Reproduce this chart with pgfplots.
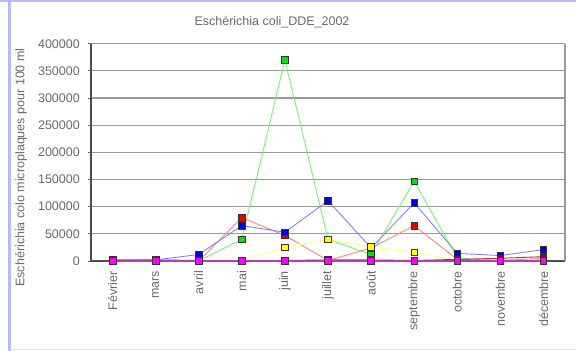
\documentclass[border=0pt]{standalone}
\usepackage{pgfplots}
\pgfplotsset{compat=1.18}
\usepackage{fontspec}
\setmainfont{Liberation Sans}
\definecolor{txt}{HTML}{6A6A6A}
\definecolor{grd}{HTML}{9A9A9A}
\definecolor{lav}{HTML}{B8B8FF}
\begin{document}
\begin{tikzpicture}
\useasboundingbox (0,0) rectangle (576bp,351bp);
\fill[white] (0,0) rectangle (576bp,351bp);
\draw[lav, line width=3bp] (9.5bp,0) -- (9.5bp,351bp);
\draw[lav, line width=2.5bp] (0,350bp) -- (576bp,350bp);
\draw[lav!50, line width=1bp] (9.5bp,1.5bp) -- (576bp,1.5bp);
\node[txt, font=\fontsize{12.5bp}{14bp}\selectfont] at (272bp,329bp) {Eschérichia coli\_DDE\_2002};
\node[txt, rotate=90, font=\fontsize{12.5bp}{14bp}\selectfont] at (21bp,183.5bp) {Eschérichia colo microplaques pour 100 ml};
\begin{axis}[
  at={(91bp,90bp)}, anchor=south west,
  width=474bp, height=217.3bp, scale only axis,
  xmin=-0.5, xmax=10.5, ymin=0, ymax=400000,
  xtick={0,...,10},
  xticklabels={Février,mars,avril,mai,juin,juillet,août,septembre,octobre,novembre,décembre},
  xticklabel style={rotate=90, anchor=east, inner sep=0pt, xshift=-7bp, text=txt, font=\fontsize{12.5bp}{14bp}\selectfont},
  ytick={0,50000,100000,150000,200000,250000,300000,350000,400000},
  yticklabels={0,50000,100000,150000,200000,250000,300000,350000,400000},
  yticklabel style={text=txt, font=\fontsize{12.5bp}{14bp}\selectfont, inner sep=0pt, xshift=-8bp},
  scaled y ticks=false,
  ymajorgrids, major grid style={grd, line width=1.2bp},
  axis x line*=bottom, axis y line*=left,
  axis line style={black!70, line width=1.3bp},
  x axis line style={-}, y axis line style={-},
  major x tick style={draw=none},
  major y tick style={black!60, line width=0.8bp},
  tick align=outside, major tick length=3bp,
  clip=false,
  every axis plot/.append style={line width=0.9bp, mark=square*, mark size=3.3bp},
  after end axis/.code={\draw[grd, line width=1.5bp] (rel axis cs:1,0) -- (rel axis cs:1,1);},
]
% green
\addplot[color={rgb,255:red,120;green,240;blue,120}, mark options={fill={rgb,255:red,0;green,230;blue,0}, draw=black!80, line width=0.6bp}] coordinates {
(0,0) (1,0) (2,0) (3,40000) (4,370000) (5,40000) (6,12000) (7,147000) (8,5000) (9,1000) (10,1000)};
% red
\addplot[color={rgb,255:red,255;green,130;blue,130}, mark options={fill={rgb,255:red,230;green,0;blue,0}, draw=black!80, line width=0.6bp}] coordinates {
(0,0) (1,1000) (2,0) (3,80000) (4,47000) (5,1000) (6,24000) (7,65000) (8,3000) (9,1000) (10,5000)};
% blue
\addplot[color={rgb,255:red,130;green,130;blue,255}, mark options={fill={rgb,255:red,0;green,0;blue,230}, draw=black!80, line width=0.6bp}] coordinates {
(0,0) (1,2000) (2,12000) (3,65000) (4,53000) (5,111000) (6,24000) (7,107000) (8,14000) (9,10000) (10,21000)};
% yellow
\addplot[color={rgb,255:red,255;green,255;blue,120}, mark options={fill={rgb,255:red,255;green,255;blue,0}, draw=black!80, line width=0.6bp}] coordinates {
(0,0) (1,0) (2,0) (3,1000) (4,25000) (5,40000) (6,26000) (7,16000) (8,1000) (9,0) (10,1000)};
% dark
\addplot[color={rgb,255:red,160;green,60;blue,60}, mark options={fill={rgb,255:red,110;green,20;blue,20}, draw=black!80, line width=0.6bp}] coordinates {
(0,2000) (1,2000) (2,1000) (3,1000) (4,1000) (5,2000) (6,2000) (7,1000) (8,3000) (9,5000) (10,8000)};
% magenta
\addplot[color={rgb,255:red,180;green,60;blue,180}, line width=1.3bp, mark options={fill={rgb,255:red,255;green,0;blue,255}, draw=black!80, line width=0.6bp}] coordinates {
(0,0) (1,0) (2,0) (3,0) (4,0) (5,0) (6,0) (7,0) (8,0) (9,0) (10,0)};
\end{axis}
\end{tikzpicture}
\end{document}
